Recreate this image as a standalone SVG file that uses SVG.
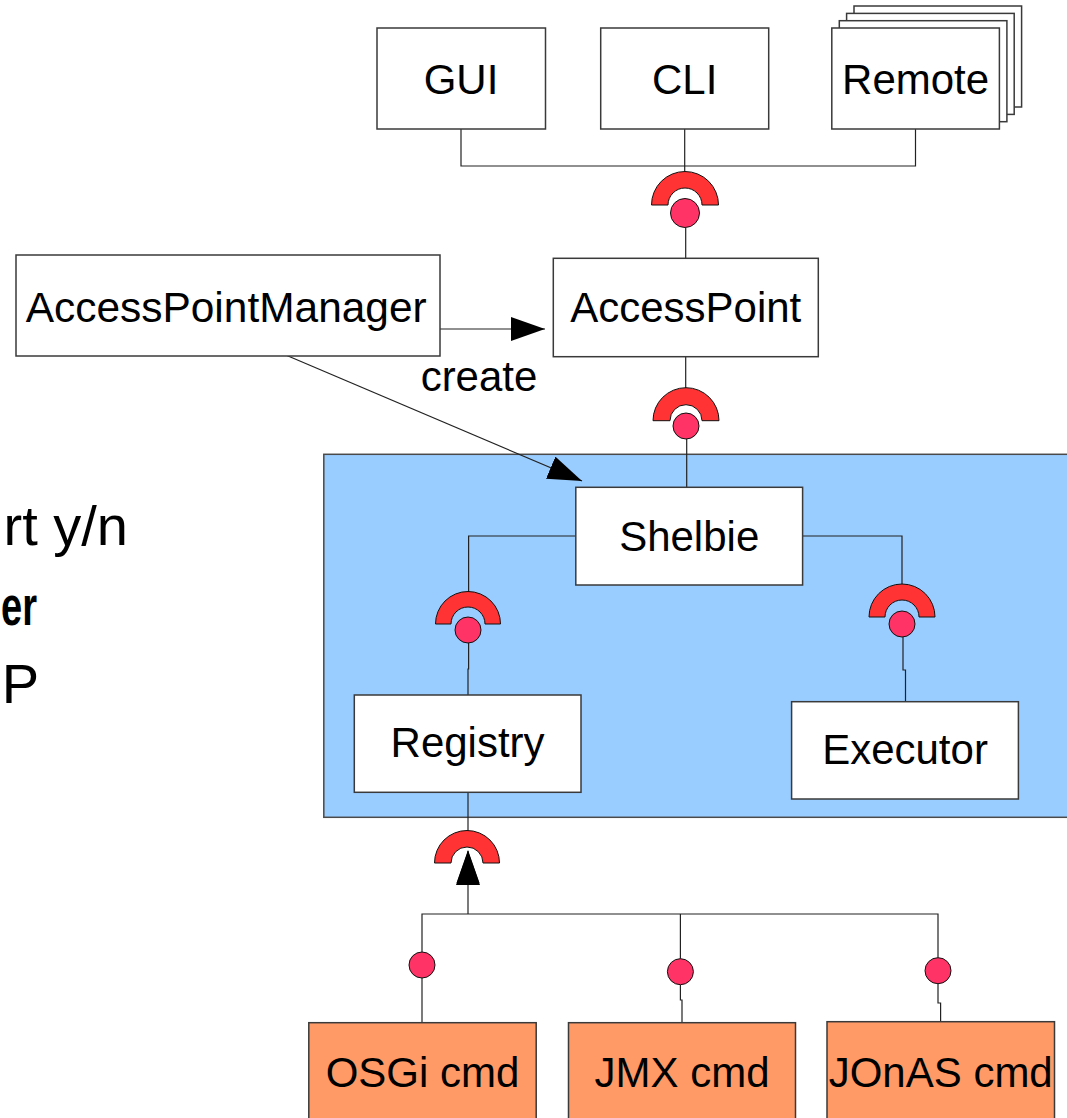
<svg xmlns="http://www.w3.org/2000/svg" width="1067" height="1118" viewBox="0 0 1067 1118">
<style>
  .box { fill: #ffffff; stroke: #3a3a3a; stroke-width: 1.5; }
  .cmd { fill: #ff9966; stroke: #3a3a3a; stroke-width: 1.5; }
  .lbl { font-family: "Liberation Sans", Arial, sans-serif; font-size: 42px; fill: #000; text-anchor: middle; }
  .side { font-family: "Liberation Sans", Arial, sans-serif; font-size: 56px; fill: #000; text-anchor: end; }
  .sidebold { font-family: "Liberation Sans", Arial, sans-serif; font-size: 56px; font-weight: bold; fill: #000; text-anchor: start; }
  .wire { fill: none; stroke: #222; stroke-width: 1.2; }
  .req { fill: #ff3333; stroke: #111; stroke-width: 1; }
  .prov { fill: #ff3366; stroke: #111; stroke-width: 1; }
</style>
<defs>
  <marker id="arr" markerUnits="userSpaceOnUse" markerWidth="36" markerHeight="24" refX="34" refY="12" orient="auto">
    <path d="M0,0 L34,12 L0,24 Z" fill="#000"/>
  </marker>
</defs>
<rect width="1067" height="1118" fill="#ffffff"/>

<!-- side text fragments -->
<text class="side" x="128" y="545">rt y/n</text>
<text class="sidebold" x="1" y="625" textLength="36" lengthAdjust="spacingAndGlyphs">er</text>
<text class="side" x="39" y="703">P</text>

<!-- container -->
<g id="container">
  <rect x="323.8" y="454.3" width="760" height="363" fill="#99ccff" stroke="#4a4a4a" stroke-width="1.5"/>
</g>

<g id="connectors">
  <path class="wire" d="M461,129 V166 H915.5 V129"/>
  <path class="wire" d="M684.7,129 V175" stroke-width="2"/>
  <path class="wire" d="M685.7,228 V258.3"/>
  <path class="wire" d="M685.7,356.7 V395"/>
  <path class="wire" d="M686.7,439 V487.3"/>
  <path class="wire" d="M575.8,536 H468.6 V595"/>
  <path class="wire" d="M468.6,643 V669 H468 V695"/>
  <path class="wire" d="M802.6,536 H902 V590"/>
  <path class="wire" d="M903,637 V670 H905.5 V701.7"/>
  <path class="wire" d="M468,792.3 V835"/>
  <path class="wire" d="M468,914 V851" marker-end="url(#arr)"/>
  <path class="wire" d="M422,952 V914 H938 V957.7"/>
  <path class="wire" d="M680.4,914 V958.7"/>
  <path class="wire" d="M422,978 V1022.7"/>
  <path class="wire" d="M680.4,985 V1000 H682 V1022.7"/>
  <path class="wire" d="M938,984 V1003 H940.6 V1021.7"/>
  <path class="wire" d="M440,329 H545" marker-end="url(#arr)"/>
  <path class="wire" d="M281,353 L582,481" marker-end="url(#arr)"/>
  <!-- interface symbols -->
  <path class="req" d="M651.5,205 A33.5,33.5 0 0 1 718.5,205 L702,205 A17,17 0 0 0 668,205 Z"/>
  <circle class="prov" cx="685" cy="213" r="14.5"/>
  <path class="req" d="M653,420.7 A33,33 0 0 1 719,420.7 L702,420.7 A16,16 0 0 0 670,420.7 Z"/>
  <circle class="prov" cx="686" cy="426" r="13"/>
  <path class="req" d="M435.5,624 A32.5,32.5 0 0 1 500.5,624 L485,624 A17,17 0 0 0 451,624 Z"/>
  <circle class="prov" cx="468" cy="630" r="13"/>
  <path class="req" d="M869,617 A33,33 0 0 1 935,617 L919,617 A17,17 0 0 0 885,617 Z"/>
  <circle class="prov" cx="902" cy="624" r="13"/>
  <path class="req" d="M434.5,863 A32.5,32.5 0 0 1 499.5,863 L483,863 A16,16 0 0 0 451,863 Z"/>
  <path d="M468,850 L479.5,883 L456.5,883 Z" fill="#000"/>
  <circle class="prov" cx="422" cy="965" r="13"/>
  <circle class="prov" cx="680.4" cy="971.7" r="13"/>
  <circle class="prov" cx="938" cy="970.7" r="13"/>
</g>

<g id="gui">
  <rect class="box" x="377" y="28" width="168.5" height="101"/>
  <text class="lbl" x="461" y="94" font-size="41">GUI</text>
</g>
<g id="cli">
  <rect class="box" x="600.7" y="28" width="168" height="101"/>
  <text class="lbl" x="684.7" y="94" font-size="41">CLI</text>
</g>
<g id="remote">
  <rect class="box" x="854" y="6" width="167.6" height="101"/>
  <rect class="box" x="846.6" y="13.4" width="167.6" height="101"/>
  <rect class="box" x="839.3" y="20.7" width="167.6" height="101"/>
  <rect class="box" x="831.8" y="28" width="167.6" height="101"/>
  <text class="lbl" x="915.6" y="94" font-size="41">Remote</text>
</g>
<g id="accesspointmanager">
  <rect class="box" x="16" y="255" width="424" height="101"/>
  <text class="lbl" x="226.2" y="321.7" textLength="401" lengthAdjust="spacingAndGlyphs">AccessPointManager</text>
</g>
<g id="create-label">
  <text class="lbl" x="479" y="391">create</text>
</g>
<g id="accesspoint">
  <rect class="box" x="553.3" y="258.3" width="265" height="98.4"/>
  <text class="lbl" x="685.7" y="321.7">AccessPoint</text>
</g>
<g id="shelbie">
  <rect class="box" x="575.8" y="487.3" width="226.8" height="97.7"/>
  <text class="lbl" x="689.2" y="550.7">Shelbie</text>
</g>
<g id="registry">
  <rect class="box" x="354.3" y="695" width="226.7" height="97.3"/>
  <text class="lbl" x="467.6" y="757">Registry</text>
</g>
<g id="executor">
  <rect class="box" x="791.6" y="701.7" width="226.8" height="97.3"/>
  <text class="lbl" x="905" y="764">Executor</text>
</g>
<g id="osgi-cmd">
  <rect class="cmd" x="308.8" y="1022.7" width="227.4" height="120"/>
  <text class="lbl" x="422.5" y="1086.7">OSGi cmd</text>
</g>
<g id="jmx-cmd">
  <rect class="cmd" x="568.5" y="1022.7" width="227" height="120"/>
  <text class="lbl" x="682" y="1086.7">JMX cmd</text>
</g>
<g id="jonas-cmd">
  <rect class="cmd" x="827" y="1021.7" width="227.5" height="120"/>
  <text class="lbl" x="940.7" y="1086.7">JOnAS cmd</text>
</g>
</svg>
